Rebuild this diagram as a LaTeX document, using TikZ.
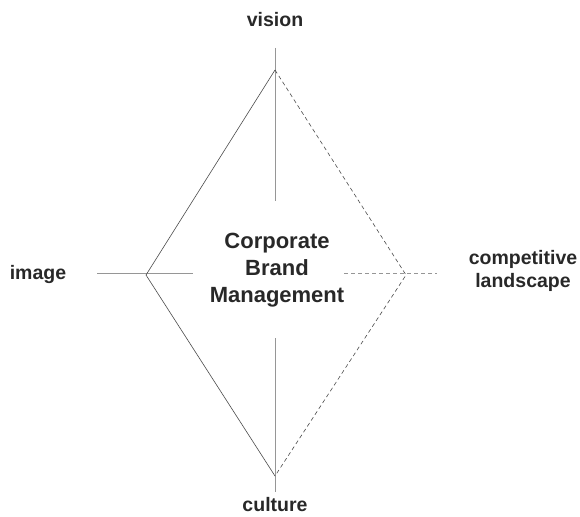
\documentclass[tikz,border=0pt]{standalone}
\usepackage{fontspec}
\setmainfont{Liberation Sans}
\usetikzlibrary{calc}
\definecolor{kante}{RGB}{75,75,75}
\definecolor{achse}{RGB}{150,150,150}
\definecolor{schrift}{RGB}{40,40,40}

\begin{document}
\begin{tikzpicture}[x=1pt, y=-1pt,
	label/.style={text=schrift, font=\fontsize{19.5}{23}\selectfont\bfseries, align=center},
	kern/.style={text=schrift, font=\fontsize{22}{27}\selectfont\bfseries, align=center},
	gestrichelt/.style={dash pattern=on 4pt off 3pt}]

	\useasboundingbox (0,0) rectangle (580,516);

	% Ecken der Raute
	\coordinate (T) at (275,70);
	\coordinate (L) at (146,275);
	\coordinate (R) at (406,275);
	\coordinate (B) at (275,476);

	% Achsen
	\coordinate (T0) at (275,48);
	\coordinate (T1) at (275,201);
	\coordinate (B0) at (275,338);
	\coordinate (B1) at (275,492);
	\coordinate (L0) at (97,273);
	\coordinate (L1) at (193,273);
	\coordinate (R0) at (344,273);
	\coordinate (R1) at (437,273);

	\draw[achse, thin] (T0) -- (T1);
	\draw[achse, thin] (B0) -- (B1);
	\draw[achse, thin] (L0) -- (L1);
	\draw[achse, thin, gestrichelt] (R0) -- (R1);

	% Raute
	\draw[kante, semithick] (B) -- (L) -- (T);
	\draw[kante, semithick, gestrichelt] (T) -- (R) -- (B);

	% Beschriftung
	\node[kern] (M) at (277,270) {Corporate\\Brand\\Management};
	\node[label] (V) at (275,20) {vision};
	\node[label] (I) at (38,274) {image};
	\node[label] (W) at (523,271) {competitive\\landscape};
	\node[label] (K) at (275,505) {culture};

\end{tikzpicture}
\end{document}
